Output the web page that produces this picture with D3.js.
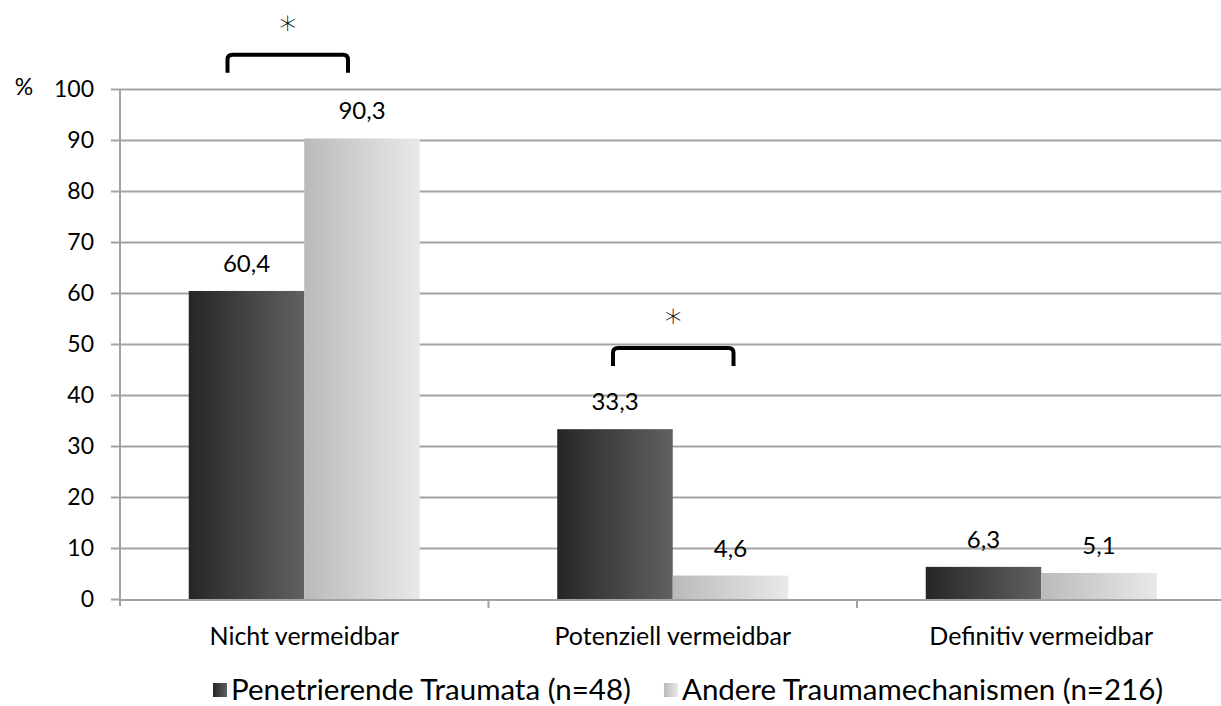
<!DOCTYPE html>
<html>
<head>
<meta charset="utf-8">
<script src="https://cdnjs.cloudflare.com/ajax/libs/d3/7.8.5/d3.min.js"></script>
<style>
  body { margin: 0; background: #fff; }
  svg { display: block; }
  text { font-family: Lato, "Open Sans", sans-serif; fill: #000; }
</style>
</head>
<body>
<script>
// data
var categories = ["Nicht vermeidbar", "Potenziell vermeidbar", "Definitiv vermeidbar"];
var seriesNames = ["Penetrierende Traumata (n=48)", "Andere Traumamechanismen (n=216)"];
var penetrating = [60.4, 33.3, 6.3];
var other = [90.3, 4.6, 5.1];
var yTicks = [0, 10, 20, 30, 40, 50, 60, 70, 80, 90, 100];
// significance brackets: category, top value, leg end value, x shift
var sigCategories = ["Nicht vermeidbar", "Potenziell vermeidbar"];
var sigTop = [106.7, 49.2];
var sigLeg = [103.2, 45.7];
var sigShift = [-17, 0];

var w = 1221;
var h = 706;
var left = 120;
var bandW = 368.5;

var svg = d3.select("body")
            .append("svg")
            .attr("width", w)
            .attr("height", h);

// gradients
var defs = svg.append("defs");
var grads = [["gDark", "#262626", "#616161"], ["gLight", "#bababa", "#e9e9e9"]];
grads.forEach(function(g) {
    var lg = defs.append("linearGradient")
        .attr("id", g[0])
        .attr("x1", "0%").attr("x2", "100%")
        .attr("y1", "0%").attr("y2", "0%");
    lg.append("stop").attr("offset", "0%").attr("stop-color", g[1]);
    lg.append("stop").attr("offset", "100%").attr("stop-color", g[2]);
});
var fills = ["url(#gDark)", "url(#gLight)"];

var xScale = d3.scaleBand()
               .domain(categories)
               .range([left, left + bandW * categories.length]);

var xSub = d3.scaleBand()
             .domain([0, 1])
             .range([0, xScale.bandwidth()])
             .paddingOuter(0.595);

var yScale = d3.scaleLinear()
               .domain([0, 100])
               .range([599, 89]);

// gridlines
svg.append("g")
    .attr("class", "grid")
    .attr("transform", "translate(" + left + ",0)")
    .call(d3.axisLeft(yScale).tickValues(yTicks.slice(1)).tickSize(-(w - left)).tickFormat(""))
    .call(function(g) {
        g.select(".domain").remove();
        g.selectAll("line").attr("stroke", "#a3a3a3").attr("stroke-width", 2);
    });

// y axis
svg.append("g")
    .attr("transform", "translate(" + left + ",0)")
    .call(d3.axisLeft(yScale).tickValues(yTicks).tickSize(9).tickSizeOuter(0).tickPadding(17))
    .call(function(g) {
        g.select(".domain").attr("stroke", "#a3a3a3").attr("stroke-width", 2)
            .attr("d", "M0," + yScale(100) + "V" + (yScale(0) + 7));
        g.selectAll("line").attr("stroke", "#a3a3a3").attr("stroke-width", 2);
        g.selectAll("text").style("font-size", "23px").style("font-family", "Lato");
    });

// % label
svg.append("text")
    .attr("x", 24)
    .attr("y", yScale(100) + 6)
    .attr("text-anchor", "middle")
    .style("font-size", "23px")
    .text("%");

// bars
var groups = svg.selectAll(".grp")
    .data(categories)
    .enter()
    .append("g")
    .attr("transform", function(d) { return "translate(" + xScale(d) + ",0)"; });

var bars = [penetrating, other];
groups.selectAll("rect")
    .data(function(d, i) { return [0, 1].map(function(s) { return {s: s, v: bars[s][i]}; }); })
    .enter()
    .append("rect")
    .attr("x", function(d) { return xSub(d.s); })
    .attr("y", function(d) { return yScale(d.v); })
    .attr("width", xSub.bandwidth())
    .attr("height", function(d) { return yScale(0) - yScale(d.v); })
    .attr("fill", function(d) { return fills[d.s]; });

groups.selectAll(".val")
    .data(function(d, i) { return [0, 1].map(function(s) { return {s: s, v: bars[s][i]}; }); })
    .enter()
    .append("text")
    .attr("x", function(d) { return xSub(d.s) + xSub.bandwidth() / 2; })
    .attr("y", function(d) { return yScale(d.v) - 19; })
    .attr("text-anchor", "middle")
    .style("font-size", "24px")
    .text(function(d) { return String(d.v).replace(".", ","); });

// x axis line
svg.append("line")
    .attr("x1", left).attr("x2", w)
    .attr("y1", yScale(0) + 1).attr("y2", yScale(0) + 1)
    .attr("stroke", "#a3a3a3").attr("stroke-width", 2);

svg.selectAll(".xtick")
    .data(categories.slice(1))
    .enter()
    .append("line")
    .attr("x1", function(d) { return xScale(d); })
    .attr("x2", function(d) { return xScale(d); })
    .attr("y1", yScale(0) + 1)
    .attr("y2", yScale(0) + 9)
    .attr("stroke", "#a3a3a3").attr("stroke-width", 2);

svg.selectAll(".xlab")
    .data(categories)
    .enter()
    .append("text")
    .attr("x", function(d) { return xScale(d) + xScale.bandwidth() / 2; })
    .attr("y", 645)
    .attr("text-anchor", "middle")
    .style("font-size", "25px")
    .text(function(d) { return d; });

// significance brackets
sigCategories.forEach(function(c, i) {
    var x0 = xScale(c) + xSub(0) + xSub.bandwidth() / 2 - 2 + sigShift[i];
    var x1 = xScale(c) + xSub(1) + xSub.bandwidth() / 2 + 3 + sigShift[i];
    var yt = yScale(sigTop[i]);
    var yl = yScale(sigLeg[i]);
    var r = 5;
    svg.append("path")
        .attr("d", "M" + x0 + "," + yl + "V" + (yt + r) + "Q" + x0 + "," + yt + " " + (x0 + r) + "," + yt +
              "H" + (x1 - r) + "Q" + x1 + "," + yt + " " + x1 + "," + (yt + r) + "V" + yl)
        .attr("fill", "none")
        .attr("stroke", "#000")
        .attr("stroke-width", 4);
    svg.append("text")
        .attr("x", (x0 + x1) / 2)
        .attr("y", yt - 21)
        .attr("text-anchor", "middle")
        .style("font-family", "DejaVu Sans")
        .style("font-weight", 200)
        .style("font-size", "34px")
        .style("fill", "#000")
        .text("\u2217");
});

// legend
var legend = svg.append("g");
var lx = 213;
var items = legend.selectAll(".leg")
    .data(seriesNames)
    .enter()
    .append("g");
items.append("rect")
    .attr("width", 14).attr("height", 14)
    .attr("y", 683)
    .attr("fill", function(d, i) { return fills[i]; });
items.append("text")
    .attr("x", 18)
    .attr("y", 700)
    .style("font-size", "29.5px")
    .text(function(d) { return d; });
var cur = lx;
items.each(function(d, i) {
    d3.select(this).attr("transform", "translate(" + cur + ",0)");
    cur += 18 + this.querySelector("text").getComputedTextLength() + 33;
});
</script>
</body>
</html>
